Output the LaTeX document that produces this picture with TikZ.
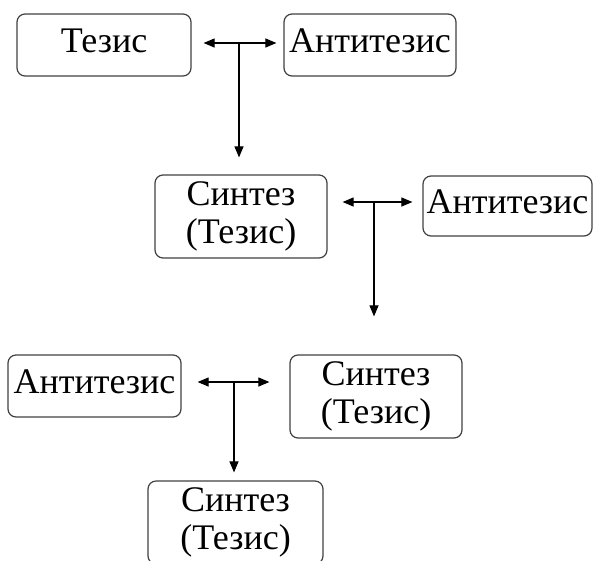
\documentclass[tikz,border=0pt]{standalone}
\usepackage{fontspec}
\setmainfont{Liberation Serif}
\usetikzlibrary{arrows.meta}
\tikzset{
  box/.style={draw=black!75, line width=1.2pt, rounded corners=8pt, inner sep=0pt,
    font=\fontsize{36}{38}\selectfont, align=center, text=black},
  one/.style={box, text height=25pt, text depth=11pt, minimum height=62pt},
  two/.style={box, minimum height=83pt},
  conn/.style={line width=1.1pt, black, arrows={-Triangle[length=11pt,width=9pt]}},
  dconn/.style={line width=1.1pt, black, arrows={Triangle[length=11pt,width=9pt]-Triangle[length=11pt,width=9pt]}}
}
\begin{document}
\begin{tikzpicture}[x=1pt,y=-1pt]
\useasboundingbox (0,0) rectangle (593,560);
\clip (0,0) rectangle (593,560);
\node[one, minimum width=174pt] (A) at (104,45) {Тезис};
\node[one, minimum width=172pt] (B) at (370,45) {Антитезис};
\node[two, minimum width=172pt] (C) at (241,216.5) {Синтез\\(Тезис)};
\node[one, minimum width=169pt, minimum height=60pt] (D) at (507.5,206) {Антитезис};
\node[one, minimum width=173pt] (E) at (94.5,386) {Антитезис};
\node[two, minimum width=172pt] (F) at (376,396.5) {Синтез\\(Тезис)};
\node[two, minimum width=175pt] (G) at (235.5,522.5) {Синтез\\(Тезис)};
\coordinate (m1) at (239,43);
\coordinate (m2) at (374,202);
\coordinate (m3) at (234,382);
\draw[dconn] ([xshift=12pt]A.east |- m1) -- ([xshift=-7pt]B.west |- m1);
\draw[conn] (m1) -- ([yshift=17pt]C.north -| m1);
\draw[dconn] ([xshift=15pt]C.east |- m2) -- ([xshift=-10pt]D.west |- m2);
\draw[conn] (m2) -- ([yshift=38pt]F.north -| m2);
\draw[dconn] ([xshift=16pt]E.east |- m3) -- ([xshift=-20pt]F.west |- m3);
\draw[conn] (m3) -- ([yshift=8pt]G.north -| m3);
\end{tikzpicture}
\end{document}
